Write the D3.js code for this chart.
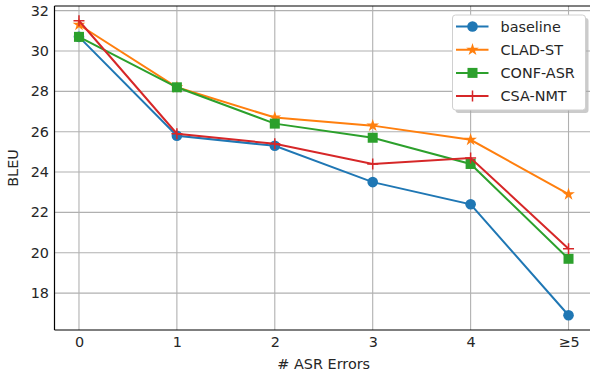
<!DOCTYPE html>
<html>
<head>
<meta charset="utf-8">
<script src="https://cdn.jsdelivr.net/npm/d3@7"></script>
<style>
  body { margin: 0; background: #fff; }
  svg { display: block; font-family: "DejaVu Sans", sans-serif; }
</style>
</head>
<body>
<svg id="chart" width="590" height="374"></svg>
<script>
// data
var categories = ["0", "1", "2", "3", "4", "\u22655"];
var seriesNames = ["baseline", "CLAD-ST", "CONF-ASR", "CSA-NMT"];
var baseline = [30.7, 25.8, 25.3, 23.5, 22.4, 16.9];
var cladSt   = [31.3, 28.2, 26.7, 26.3, 25.6, 22.9];
var confAsr  = [30.7, 28.2, 26.4, 25.7, 24.4, 19.7];
var csaNmt   = [31.5, 25.9, 25.4, 24.4, 24.7, 20.2];
var yTicks = [18, 20, 22, 24, 26, 28, 30, 32];

var colors = ["#1f77b4", "#ff7f0e", "#2ca02c", "#d62728"];
var markers = ["circle", "star", "square", "plus"];
var series = [baseline, cladSt, confAsr, csaNmt];
var fs = 14.4;

var svg = d3.select("#chart"),
  margin = { top: 6, right: -3, bottom: 44, left: 54.5 },
  width = +svg.attr("width") - margin.left - margin.right,
  height = +svg.attr("height") - margin.top - margin.bottom,
  g = svg.append("g")
    .attr("transform", "translate(" + margin.left + "," + margin.top + ")");

var x = d3.scaleLinear()
  .domain([-0.25, categories.length - 1 + 0.25])
  .range([0, width]);

var yMin = 16.9, yMax = 31.5, pad = (yMax - yMin) * 0.05;
var y = d3.scaleLinear()
  .domain([yMin - pad, yMax + pad])
  .range([height, 0]);

// grid
g.append("g").selectAll("line")
  .data(yTicks).enter().append("line")
  .attr("x1", 0).attr("x2", width)
  .attr("y1", function (d) { return y(d); })
  .attr("y2", function (d) { return y(d); })
  .attr("stroke", "#b0b0b0").attr("stroke-width", 1.1);

g.append("g").selectAll("line")
  .data(categories).enter().append("line")
  .attr("y1", 0).attr("y2", height)
  .attr("x1", function (d, i) { return x(i); })
  .attr("x2", function (d, i) { return x(i); })
  .attr("stroke", "#b0b0b0").attr("stroke-width", 1.1);

// axes
var xAxis = g.append("g")
  .attr("transform", "translate(0," + height + ")")
  .call(d3.axisBottom(x).tickValues(d3.range(categories.length))
    .tickFormat(function (d) { return categories[d]; }).tickSize(0).tickPadding(7));
var yAxis = g.append("g")
  .call(d3.axisLeft(y).tickValues(yTicks).tickSize(0).tickPadding(5.5));

[xAxis, yAxis].forEach(function (a) {
  a.select(".domain").remove();
  a.selectAll("text").attr("font-size", fs).attr("fill", "#262626")
    .attr("font-family", "DejaVu Sans");
});

// spines
g.append("line").attr("x1", 0).attr("x2", 0).attr("y1", 0).attr("y2", height)
  .attr("stroke", "#000").attr("stroke-width", 1.2);
g.append("line").attr("x1", 0).attr("x2", width).attr("y1", height).attr("y2", height)
  .attr("stroke", "#000").attr("stroke-width", 1.2);
g.append("line").attr("x1", 0).attr("x2", width).attr("y1", 0).attr("y2", 0)
  .attr("stroke", "#000").attr("stroke-width", 1.2);

// labels
svg.append("text")
  .attr("x", margin.left + x(2.5)).attr("y", 369)
  .attr("text-anchor", "middle").attr("font-size", fs).attr("fill", "#262626")
  .text("# ASR Errors");
svg.append("text")
  .attr("transform", "translate(18," + (margin.top + height / 2) + ") rotate(-90)")
  .attr("text-anchor", "middle").attr("font-size", fs).attr("fill", "#262626")
  .text("BLEU");

function drawMarker(sel, type, color) {
  if (type === "circle") {
    sel.append("circle").attr("r", 5.3).attr("fill", color);
  } else if (type === "square") {
    sel.append("rect").attr("x", -5).attr("y", -5).attr("width", 10).attr("height", 10)
      .attr("fill", color);
  } else if (type === "star") {
    sel.append("path").attr("d", d3.symbol().type(d3.symbolStar).size(50)())
      .attr("fill", color);
  } else {
    sel.append("path").attr("d", "M-5.5,0H5.5M0,-5.5V5.5")
      .attr("stroke", color).attr("stroke-width", 1.5).attr("fill", "none");
  }
}

var line = d3.line()
  .x(function (d, i) { return x(i); })
  .y(function (d) { return y(d); });

series.forEach(function (s, k) {
  g.append("path").datum(s)
    .attr("d", line)
    .attr("fill", "none")
    .attr("stroke", colors[k])
    .attr("stroke-width", 2);
  g.append("g").selectAll("g")
    .data(s).enter().append("g")
    .attr("transform", function (d, i) { return "translate(" + x(i) + "," + y(d) + ")"; })
    .each(function () { drawMarker(d3.select(this), markers[k], colors[k]); });
});

// legend
var lg = svg.append("g").attr("transform", "translate(452.5,15)");
lg.append("rect").attr("x", 3).attr("y", 3).attr("width", 133).attr("height", 95)
  .attr("rx", 3).attr("fill", "#a8a8a8").attr("opacity", 0.6);
lg.append("rect").attr("width", 133).attr("height", 95).attr("rx", 3)
  .attr("fill", "#fff").attr("stroke", "#d0d0d0").attr("stroke-width", 1);

var items = lg.selectAll("g.item")
  .data(seriesNames).enter().append("g")
  .attr("class", "item")
  .attr("transform", function (d, i) { return "translate(0," + (11.5 + i * 23.2) + ")"; });
items.append("line")
  .attr("x1", 3.5).attr("x2", 36)
  .attr("stroke", function (d, i) { return colors[i]; })
  .attr("stroke-width", 2);
items.each(function (d, i) {
  var m = d3.select(this).append("g").attr("transform", "translate(20,0)");
  drawMarker(m, markers[i], colors[i]);
});
items.append("text")
  .attr("x", 48).attr("dy", "0.35em")
  .attr("font-size", fs).attr("fill", "#262626")
  .text(function (d) { return d; });
</script>
</body>
</html>
